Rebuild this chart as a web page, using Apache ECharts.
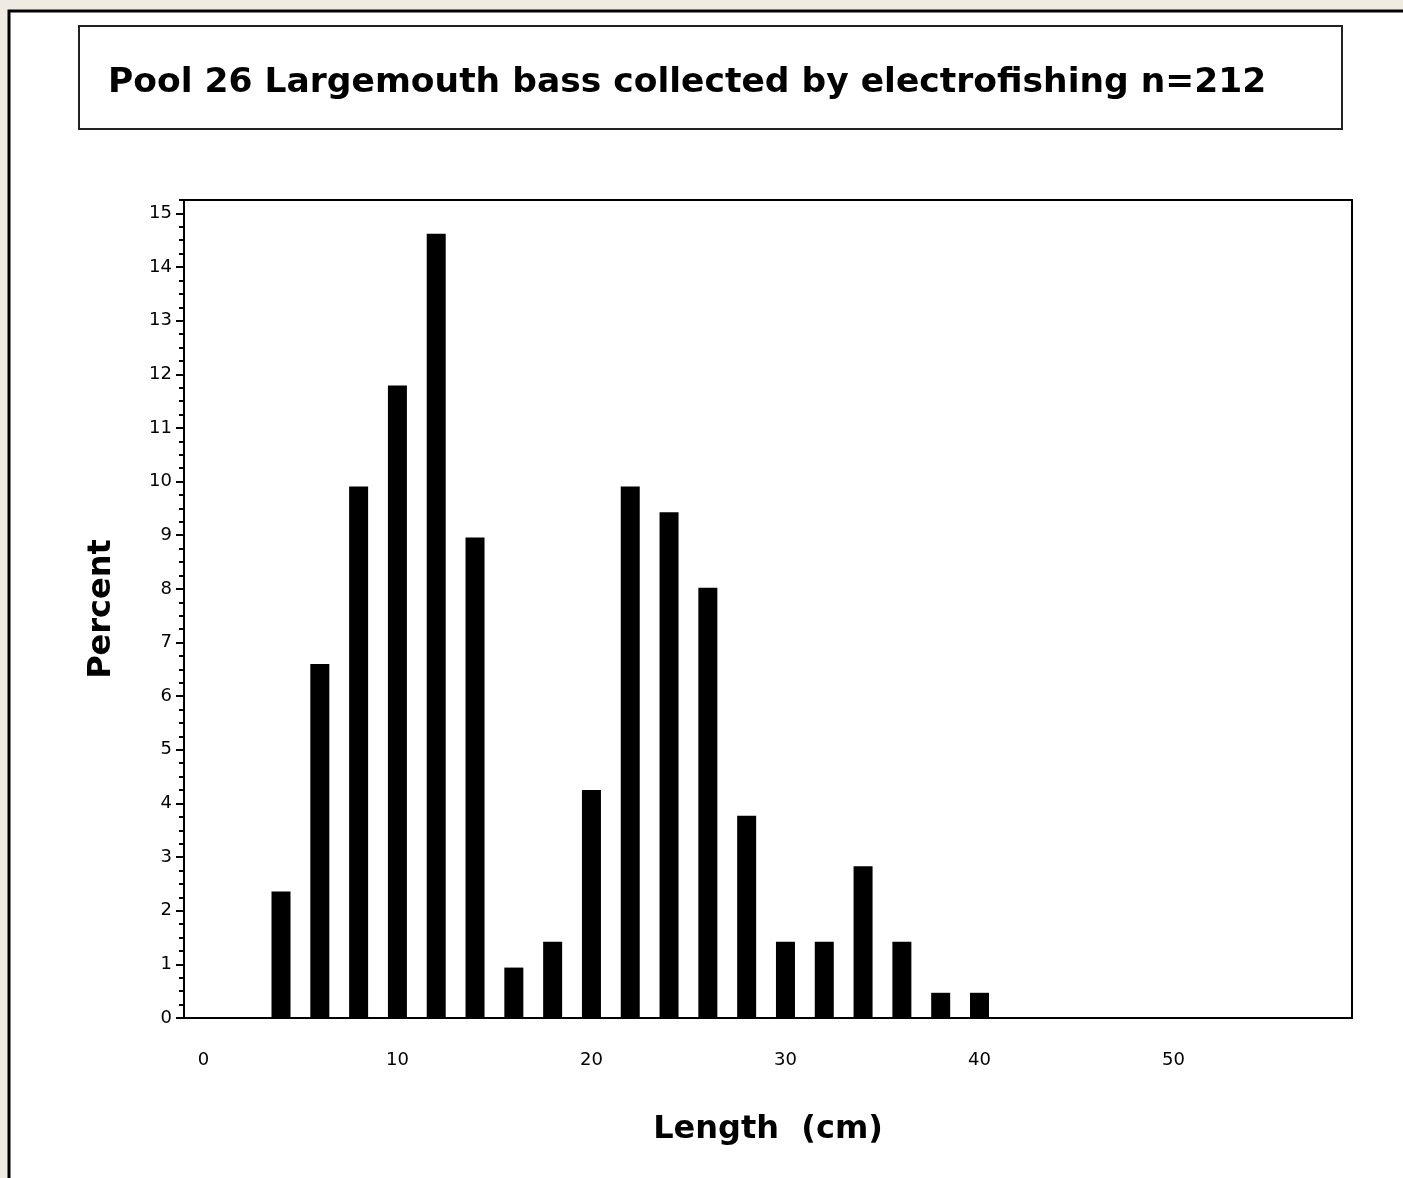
<!DOCTYPE html>
<html>
<head>
<meta charset="utf-8">
<script src="https://cdn.jsdelivr.net/npm/echarts@6/dist/echarts.min.js"></script>
<style>
html,body{margin:0;padding:0;background:#efebe2;}
#chart{width:1403px;height:1178px;}
</style>
</head>
<body>
<div id="chart"></div>
<script>
// Data
const lengthMidpoints = [4, 6, 8, 10, 12, 14, 16, 18, 20, 22, 24, 26, 28, 30, 32, 34, 36, 38, 40];
const percentValues = [2.36, 6.60, 9.91, 11.79, 14.62, 8.96, 0.94, 1.42, 4.25, 9.91, 9.43, 8.02, 3.77, 1.42, 1.42, 2.83, 1.42, 0.47, 0.47];
const yTickLabels = [0, 1, 2, 3, 4, 5, 6, 7, 8, 9, 10, 11, 12, 13, 14, 15];
const xTickLabels = [0, 10, 20, 30, 40, 50];
const titleText = 'Pool 26 Largemouth bass collected by electrofishing n=212';

const FONT = 'DejaVu Sans';
const chart = echarts.init(document.getElementById('chart'), null, {renderer: 'canvas'});

const barData = lengthMidpoints.map((x, i) => [x, percentValues[i]]);

chart.setOption({
  animation: false,
  backgroundColor: 'transparent',
  graphic: [
    {type: 'rect', z: -10, shape: {x: 9, y: 11, width: 1420, height: 1200},
     style: {fill: '#ffffff', stroke: '#000000', lineWidth: 3}},
    {type: 'rect', z: -9, shape: {x: 79, y: 26, width: 1263, height: 103},
     style: {fill: '#ffffff', stroke: '#222222', lineWidth: 2}}
  ],
  title: {
    text: titleText,
    left: 103, top: 61,
    textStyle: {fontFamily: FONT, fontSize: 34.5, fontWeight: 'bold', color: '#000'}
  },
  grid: {left: 184, top: 200, width: 1168, height: 818, show: true,
         borderColor: '#000', borderWidth: 2, backgroundColor: '#fff'},
  xAxis: {
    type: 'value', min: -1, max: 59.2,
    name: 'Length  (cm)', nameLocation: 'middle', nameGap: 96,
    nameTextStyle: {fontFamily: FONT, fontSize: 32, fontWeight: 'bold', color: '#000'},
    axisLine: {show: true, onZero: false, lineStyle: {color: '#000', width: 2}},
    axisTick: {show: false},
    splitLine: {show: false},
    axisLabel: {customValues: xTickLabels, margin: 33, fontFamily: FONT, fontSize: 18, color: '#000'}
  },
  yAxis: [
    {
      type: 'value', min: 0, max: 15.25, interval: 0.25,
      name: 'Percent', nameLocation: 'middle', nameGap: 66,
      nameTextStyle: {fontFamily: FONT, fontSize: 32, fontWeight: 'bold', color: '#000'},
      axisLine: {show: true, onZero: false, lineStyle: {color: '#000', width: 2}},
      axisTick: {show: true, length: 5, lineStyle: {color: '#000', width: 2}},
      splitLine: {show: false},
      axisLabel: {customValues: yTickLabels, margin: 12, fontFamily: FONT, fontSize: 18, color: '#000'}
    },
    {
      type: 'value', min: 0, max: 15.25, position: 'left', offset: 0,
      axisLine: {show: false, onZero: false},
      axisTick: {show: true, length: 8, customValues: yTickLabels, lineStyle: {color: '#000', width: 2}},
      axisLabel: {show: false},
      splitLine: {show: false}
    }
  ],
  series: [{
    type: 'bar',
    data: barData,
    barWidth: 19,
    itemStyle: {color: '#000'},
    silent: true
  }]
});
</script>
</body>
</html>
